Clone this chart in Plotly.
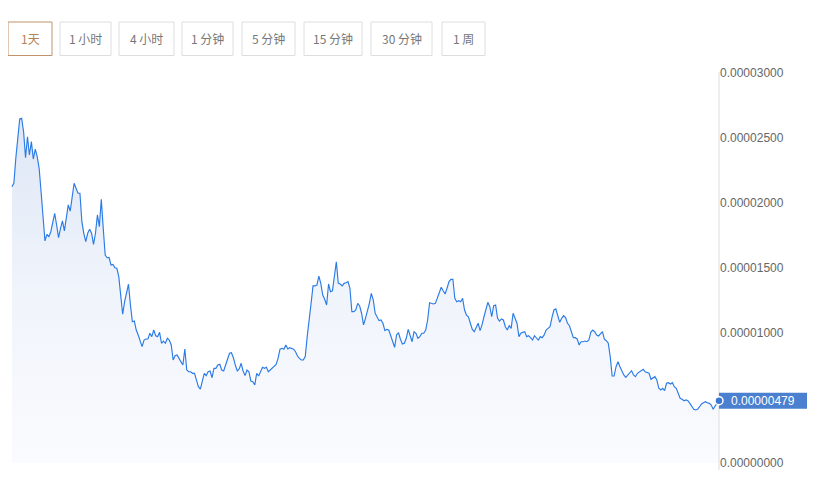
import plotly.graph_objects as go
import pandas as pd

# Daily close prices, in units of 1e-6
price_micro = [
    21.25, 21.54, 23.46, 25.23, 26.46, 26.52, 25.48, 23.48, 25.10, 23.69,
    24.72, 23.38, 24.15, 23.56, 22.67, 20.87, 19.08, 17.08, 17.59, 17.41,
    17.79, 18.44, 19.21, 18.31, 17.33, 18.05, 18.62, 17.85, 18.69, 19.85,
    19.38, 20.36, 21.52, 21.13, 20.75, 20.75, 18.56, 17.67, 17.02, 17.67,
    17.98, 17.67, 16.82, 17.67, 19.08, 18.18, 20.28, 18.05, 16.00, 15.79,
    15.82, 15.23, 15.28, 15.02, 14.98, 14.33, 13.05, 11.44, 12.41, 13.05,
    13.75, 12.15, 10.87, 10.92, 10.23, 9.85,
    9.33, 8.95, 9.46, 9.54, 9.54, 9.98, 9.72, 10.23, 9.79, 9.72,
    10.05, 9.21, 9.38, 9.21, 9.59, 9.46, 9.08, 7.92, 8.25, 8.31,
    8.05, 7.79, 7.54, 8.77, 7.15, 7.02, 7.02, 6.90, 6.90, 6.38,
    5.87, 5.69, 6.25, 6.90, 6.72, 7.02, 7.08, 6.56, 7.28, 7.28,
    7.54, 7.59, 7.15, 7.08, 7.54, 7.92, 8.44, 8.48, 8.10, 7.54,
    7.08, 7.23, 7.67, 7.08, 6.72, 7.15, 7.02, 6.31,
    6.25, 6.00, 6.90, 6.69, 7.02, 7.36, 7.28, 7.36, 7.02, 7.15,
    7.28, 7.41, 7.59, 8.05, 8.75, 8.82, 8.75, 9.08, 8.77, 8.87,
    8.82, 8.75, 8.56, 8.23, 8.05, 7.92, 7.92, 8.18, 9.72, 11.25,
    12.28, 13.62, 13.62, 13.69, 14.38, 13.82, 12.92, 12.59, 12.15, 13.77,
    13.18, 13.25, 14.33, 15.48, 13.82, 13.77, 13.62, 13.82, 13.87, 13.95,
    13.44, 11.64, 11.64, 11.77, 12.28, 12.08, 11.52, 10.62, 11.13, 11.64,
    12.28, 13.05, 12.54, 11.52, 11.25, 10.95, 11.00, 10.75, 10.18, 10.28,
    10.23, 9.72, 9.33, 8.90, 9.85, 10.02, 9.52, 9.15, 9.21, 9.59,
    10.28, 9.72, 9.33, 10.10, 9.98, 9.59, 9.72, 9.98, 9.98, 10.23,
    11.00, 12.33, 12.28, 12.23, 12.28, 12.67, 13.18, 13.52, 13.25, 13.00,
    13.44, 13.95, 14.13, 14.13, 12.67, 12.41, 12.48, 12.41, 12.67, 11.77,
    11.38, 11.25, 10.75, 10.28, 10.10, 10.48, 10.75, 10.18, 10.62, 11.25,
    11.77,
    12.36, 12.02, 11.25, 12.10, 12.15, 11.13, 10.92, 11.08, 11.00, 10.48,
    10.23, 10.56, 10.36, 11.52, 11.18, 10.75, 9.72, 9.98, 10.05, 10.10,
    9.72, 9.79, 9.64, 9.46, 9.79, 9.64, 9.46, 9.72, 9.64, 9.85,
    10.23, 10.36, 10.48, 11.18, 11.77, 11.85, 11.38, 10.82, 11.13, 11.33,
    11.18, 10.75, 10.56, 10.10, 9.64, 9.64, 9.54, 9.08, 9.33, 9.33,
    9.38, 9.33, 9.46, 10.05, 10.23, 10.10,
    9.85, 9.77, 9.92, 10.10, 9.52, 9.41, 9.21, 8.18, 6.69, 6.69,
    7.41, 7.79, 7.41, 7.02, 6.77, 6.59, 6.77, 6.95, 7.10, 6.77,
    6.64, 6.90, 7.02, 7.15, 7.21, 7.02, 6.95, 6.90, 6.44, 6.52,
    6.64, 6.38, 5.75, 5.62, 5.75, 5.56, 6.13, 6.18, 6.08, 6.18,
    5.87, 5.75, 5.41, 4.98, 4.90, 4.79, 4.85, 4.79, 4.59, 4.38,
    4.13, 4.08, 4.13, 4.33, 4.54, 4.64, 4.72, 4.64, 4.59, 4.46,
    4.13, 4.38, 4.64, 4.79,
]
prices = [v * 1e-6 for v in price_micro]
dates = pd.date_range("2023-01-01", periods=len(prices), freq="D")

tick_vals = [0, 5e-6, 10e-6, 15e-6, 20e-6, 25e-6, 30e-6]
tick_text = ["0.00000000", "0.00000500", "0.00001000", "0.00001500",
             "0.00002000", "0.00002500", "0.00003000"]
last_label = "0.00000479"

buttons = ["1天", "1 小时", "4 小时", "1 分钟", "5 分钟", "15 分钟", "30 分钟", "1 周"]
active_button = 0

# page body has an 8px margin; work in screen pixels and offset
OFF = 8
W, H = 838 - OFF, 502 - OFF
# plot area in screen pixels: x 10..719, y 66..470
SX0, SX1, SY0, SY1 = 10, 719, 66, 470
L = SX0 - OFF
R = W - (SX1 - OFF)
T = SY0 - OFF
B = H - (SY1 - OFF)
plot_w = SX1 - SX0
plot_h = SY1 - SY0


def px_x(px):
    return (px - SX0) / plot_w


def px_y(py):
    return (SY1 - py) / plot_h


LINE = "#2b7be6"
fig = go.Figure()
fig.add_trace(go.Scatter(
    x=dates, y=prices, mode="lines",
    line=dict(color=LINE, width=1.15, shape="linear"),
    fill="tozeroy",
    fillgradient=dict(type="vertical",
                      colorscale=[[0, "rgba(250,251,254,1)"],
                                  [0.5, "rgba(240,244,251,1)"],
                                  [1, "rgba(222,231,246,1)"]]),
    hoverinfo="skip", showlegend=False,
))

# y value per pixel: 1e-6 / 13 ; value 0 sits at screen y 463
upp = 1e-6 / 13
y0_px = 463
ymin = -(SY1 - y0_px) * upp
ymax = (y0_px - SY0) * upp

fig.update_layout(
    width=W, height=H,
    margin=dict(l=L, r=R, t=T, b=B),
    paper_bgcolor="white", plot_bgcolor="white",
    xaxis=dict(range=[dates[0] - pd.Timedelta(days=1), dates[-1]],
               showgrid=False, zeroline=False, showticklabels=False,
               showline=False, ticks=""),
    yaxis=dict(side="right", range=[ymin, ymax], showgrid=False, zeroline=False,
               tickvals=tick_vals, ticktext=tick_text, ticks="",
               showline=False,
               tickfont=dict(family="Liberation Sans, Arial", size=12, color="#666666")),
    font=dict(family="Liberation Sans, Arial"),
)

shapes = []
annotations = []
# axis line
shapes.append(dict(type="line", xref="paper", yref="paper",
                   x0=1, x1=1, y0=0, y1=px_y(72),
                   line=dict(color="#dcdcdc", width=1)))

btn_x = [(8, 52), (60, 111), (119, 174), (182, 233), (242, 295), (304, 362), (371, 432), (442, 485)]
for i, (label, (a, b)) in enumerate(zip(buttons, btn_x)):
    active = i == active_button
    shapes.append(dict(type="rect", xref="paper", yref="paper",
                       x0=px_x(a), x1=px_x(b), y0=px_y(55.5), y1=px_y(22),
                       line=dict(color="#c0946a" if active else "#dedede", width=1),
                       fillcolor="white", layer="above"))
    annotations.append(dict(text=label, xref="paper", yref="paper",
                            x=px_x((a + b) / 2), y=px_y(39), showarrow=False,
                            xanchor="center", yanchor="middle",
                            font=dict(family="Noto Sans CJK SC", size=12,
                                      color="#b08458" if active else "#777777")))

# last-price label box (covers the 0.00000500 tick label as in the reference)
shapes.append(dict(type="rect", xref="paper", yref="y",
                   x0=1, x1=px_x(807),
                   y0=prices[-1] - 8 * upp, y1=prices[-1] + 8 * upp,
                   line=dict(width=0), fillcolor="#4a80cf", layer="above"))
# end-of-line dot on top of the box
shapes.append(dict(type="circle", xref="paper", yref="y",
                   xsizemode="pixel", ysizemode="pixel",
                   xanchor=1, yanchor=prices[-1],
                   x0=-4, x1=4, y0=-4, y1=4,
                   fillcolor="#3a78d4", line=dict(color="white", width=1.5),
                   layer="above"))
annotations.append(dict(text=last_label, xref="paper", yref="y",
                        x=(1 + px_x(807)) / 2, y=prices[-1],
                        xanchor="center", yanchor="middle", showarrow=False,
                        font=dict(family="Liberation Sans, Arial", size=12, color="white")))

fig.update_layout(shapes=shapes, annotations=annotations)
fig.write_html("out.html")
